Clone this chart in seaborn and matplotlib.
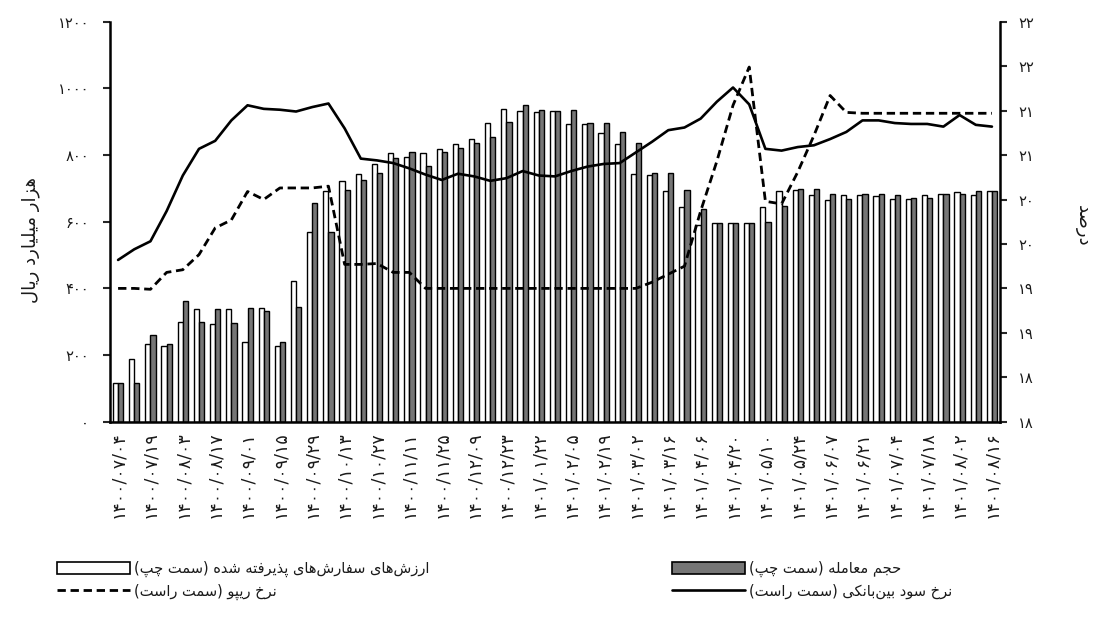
import math
import numpy as np
import pandas as pd
import matplotlib
matplotlib.use("Agg")
import matplotlib.pyplot as plt
from matplotlib.patches import Patch
from matplotlib.lines import Line2D
from matplotlib.ticker import FixedLocator, FuncFormatter
import seaborn as sns

# ---------------------------------------------------------------
# data (weekly)
# ---------------------------------------------------------------
date_labels = [
    "۱۴۰۰/۰۷/۰۴", "۱۴۰۰/۰۷/۱۹", "۱۴۰۰/۰۸/۰۳", "۱۴۰۰/۰۸/۱۷", "۱۴۰۰/۰۹/۰۱",
    "۱۴۰۰/۰۹/۱۵", "۱۴۰۰/۰۹/۲۹", "۱۴۰۰/۱۰/۱۳", "۱۴۰۰/۱۰/۲۷", "۱۴۰۰/۱۱/۱۱",
    "۱۴۰۰/۱۱/۲۵", "۱۴۰۰/۱۲/۰۹", "۱۴۰۰/۱۲/۲۳", "۱۴۰۱/۰۱/۲۲", "۱۴۰۱/۰۲/۰۵",
    "۱۴۰۱/۰۲/۱۹", "۱۴۰۱/۰۳/۰۲", "۱۴۰۱/۰۳/۱۶", "۱۴۰۱/۰۴/۰۶", "۱۴۰۱/۰۴/۲۰",
    "۱۴۰۱/۰۵/۱۰", "۱۴۰۱/۰۵/۲۴", "۱۴۰۱/۰۶/۰۷", "۱۴۰۱/۰۶/۲۱", "۱۴۰۱/۰۷/۰۴",
    "۱۴۰۱/۰۷/۱۸", "۱۴۰۱/۰۸/۰۲", "۱۴۰۱/۰۸/۱۶",
]

# accepted orders value (left axis)
accepted = [117, 187, 232, 227, 299, 337, 294, 339, 239, 342,
            227, 422, 568, 693, 721, 743, 773, 805, 795, 805,
            818, 832, 848, 897, 938, 933, 928, 933, 893, 893,
            865, 833, 743, 741, 693, 645, 589, 595, 595, 595,
            643, 693, 695, 681, 666, 679, 681, 677, 669, 669,
            681, 682, 689, 681, 692]

# trade volume (left axis)
volume = [117, 117, 259, 233, 361, 299, 339, 295, 342, 331,
          239, 344, 655, 568, 695, 725, 746, 792, 808, 767,
          808, 820, 835, 853, 900, 949, 936, 931, 934, 896,
          897, 868, 835, 747, 745, 695, 639, 595, 595, 595,
          598, 648, 697, 697, 682, 669, 683, 683, 681, 670,
          672, 683, 683, 692, 693]

# interbank rate (right axis)
interbank = [19.32, 19.44, 19.53, 19.87, 20.27, 20.57, 20.66, 20.89, 21.06, 21.02,
             21.01, 20.99, 21.04, 21.08, 20.80, 20.46, 20.44, 20.41, 20.35, 20.28,
             20.22, 20.29, 20.26, 20.21, 20.24, 20.32, 20.27, 20.26, 20.32, 20.37,
             20.40, 20.41, 20.53, 20.65, 20.78, 20.81, 20.91, 21.10, 21.26, 21.07,
             20.57, 20.55, 20.59, 20.61, 20.68, 20.76, 20.89, 20.89, 20.86, 20.85,
             20.85, 20.82, 20.95, 20.84, 20.82]

# repo rate (right axis)
repo = [19.00, 19.00, 18.99, 19.18, 19.21, 19.38, 19.68, 19.77, 20.09, 20.00,
        20.13, 20.13, 20.13, 20.15, 19.27, 19.27, 19.28, 19.18, 19.18, 19.00,
        19.00, 19.00, 19.00, 19.00, 19.00, 19.00, 19.00, 19.00, 19.00, 19.00,
        19.00, 19.00, 19.00, 19.07, 19.16, 19.25, 19.87, 20.43, 21.06, 21.49,
        19.98, 19.95, 20.31, 20.72, 21.17, 20.98, 20.97, 20.97, 20.97, 20.97,
        20.97, 20.97, 20.97, 20.97, 20.97]

weeks = list(range(len(accepted)))

LBL_ACC = "ارزش‌های سفارش‌های پذیرفته شده (سمت چپ)"
LBL_VOL = "حجم معامله (سمت چپ)"
LBL_REPO = "نرخ ریپو (سمت راست)"
LBL_IB = "نرخ سود بین‌بانکی (سمت راست)"
YLABEL_L = "هزار میلیارد ریال"
YLABEL_R = "درصد"

# ---------------------------------------------------------------
# small persian shaper (matplotlib has no arabic shaping / bidi)
# isolated, final, initial, medial
# ---------------------------------------------------------------
FORMS = {
    "ا": ("\uFE8D", "\uFE8E", None, None),
    "ب": ("\uFE8F", "\uFE90", "\uFE91", "\uFE92"),
    "پ": ("\uFB56", "\uFB57", "\uFB58", "\uFB59"),
    "ت": ("\uFE95", "\uFE96", "\uFE97", "\uFE98"),
    "ج": ("\uFE9D", "\uFE9E", "\uFE9F", "\uFEA0"),
    "چ": ("\uFB7A", "\uFB7B", "\uFB7C", "\uFB7D"),
    "ح": ("\uFEA1", "\uFEA2", "\uFEA3", "\uFEA4"),
    "خ": ("\uFEA5", "\uFEA6", "\uFEA7", "\uFEA8"),
    "د": ("\uFEA9", "\uFEAA", None, None),
    "ذ": ("\uFEAB", "\uFEAC", None, None),
    "ر": ("\uFEAD", "\uFEAE", None, None),
    "ز": ("\uFEAF", "\uFEB0", None, None),
    "س": ("\uFEB1", "\uFEB2", "\uFEB3", "\uFEB4"),
    "ش": ("\uFEB5", "\uFEB6", "\uFEB7", "\uFEB8"),
    "ص": ("\uFEB9", "\uFEBA", "\uFEBB", "\uFEBC"),
    "ع": ("\uFEC9", "\uFECA", "\uFECB", "\uFECC"),
    "ف": ("\uFED1", "\uFED2", "\uFED3", "\uFED4"),
    "ک": ("\uFB8E", "\uFB8F", "\uFB90", "\uFB91"),
    "ل": ("\uFEDD", "\uFEDE", "\uFEDF", "\uFEE0"),
    "م": ("\uFEE1", "\uFEE2", "\uFEE3", "\uFEE4"),
    "ن": ("\uFEE5", "\uFEE6", "\uFEE7", "\uFEE8"),
    "ه": ("\uFEE9", "\uFEEA", "\uFEEB", "\uFEEC"),
    "و": ("\uFEED", "\uFEEE", None, None),
    "ی": ("\uFBFC", "\uFBFD", "\uFBFE", "\uFBFF"),
}


def fa(text):
    def dual(c):
        return c in FORMS and FORMS[c][2] is not None
    out = []
    for i, c in enumerate(text):
        if c not in FORMS:
            if c != "\u200c":
                out.append(c)
            continue
        prev = text[i - 1] if i > 0 else ""
        nxt = text[i + 1] if i + 1 < len(text) else ""
        jp = dual(prev)
        jn = dual(c) and nxt in FORMS
        iso, fin, ini, med = FORMS[c]
        out.append(med if (jp and jn) else fin if jp else ini if jn else iso)
    mirror = {"(": ")", ")": "("}
    return "".join(mirror.get(c, c) for c in reversed(out))


FA_DIGITS = str.maketrans("0123456789", "۰۱۲۳۴۵۶۷۸۹")

# ---------------------------------------------------------------
# figure
# ---------------------------------------------------------------
sns.set_style("white")
plt.rcParams["font.family"] = ["DejaVu Sans"]
plt.rcParams["axes.unicode_minus"] = False

TXT = "#1a1a1a"
GRAY = "#767676"

fig = plt.figure(figsize=(11.01, 6.39), dpi=100)
ax = fig.add_axes([0.0999, 0.340, 0.8084, 0.626])

df = pd.DataFrame({
    "week": weeks * 2,
    "value": accepted + volume,
    "series": [LBL_ACC] * len(weeks) + [LBL_VOL] * len(weeks),
})
sns.barplot(data=df, x="week", y="value", hue="series",
            hue_order=[LBL_ACC, LBL_VOL], palette=["white", GRAY],
            saturation=1, edgecolor="black", linewidth=1.0, width=0.64,
            errorbar=None, legend=False, ax=ax)

ax2 = ax.twinx()
sns.lineplot(x=weeks, y=interbank, ax=ax2, color="black", linewidth=1.9)
sns.lineplot(x=weeks, y=repo, ax=ax2, color="black", linewidth=2.0,
             linestyle=(0, (3.0, 1.7)))

ax.set_xlim(-0.5, len(weeks) - 0.5)
ax.set_ylim(0, 1200)
ax2.set_ylim(17.5, 22)

# left axis
ax.yaxis.set_major_locator(FixedLocator(np.arange(0, 1201, 200)))
ax.yaxis.set_major_formatter(FuncFormatter(lambda v, p: str(int(v)).translate(FA_DIGITS)))
ax.tick_params(axis="y", length=5, width=1.5, direction="out", labelsize=10.5,
               labelcolor=TXT, pad=10)

# right axis (labels rounded like the original)
ax2.yaxis.set_major_locator(FixedLocator(np.arange(17.5, 22.01, 0.5)))
ax2.yaxis.set_major_formatter(
    FuncFormatter(lambda v, p: str(int(math.floor(v + 0.5))).translate(FA_DIGITS)))
ax2.tick_params(axis="y", length=5, width=1.5, direction="out", labelsize=10.5,
                labelcolor=TXT, pad=8)

# x axis
ax.set_xticks(weeks[::2])
ax.set_xticklabels(date_labels, rotation=90, fontsize=12.5, color=TXT)
ax.tick_params(axis="x", length=0, pad=7)
ax.set_xlabel("")

for a in (ax, ax2):
    a.spines["top"].set_visible(False)
    for s in a.spines.values():
        s.set_color("black")
        s.set_linewidth(1.8)
ax.spines["right"].set_visible(False)
ax2.spines["left"].set_visible(False)
ax2.spines["bottom"].set_visible(False)

ax.set_ylabel(fa(YLABEL_L), fontsize=13, color=TXT)
ax.yaxis.set_label_coords(-0.079, 0.454)
ax2.set_ylabel(fa(YLABEL_R), fontsize=13, color=TXT, rotation=270, va="center")
ax2.yaxis.set_label_coords(1.093, 0.49)

# legend, two columns placed like the original
h_acc = Patch(facecolor="white", edgecolor="black", linewidth=1.2)
h_vol = Patch(facecolor=GRAY, edgecolor="black", linewidth=1.2)
h_repo = Line2D([], [], color="black", linewidth=2.0, linestyle=(0, (3.0, 1.7)))
h_ib = Line2D([], [], color="black", linewidth=1.9)

leg_kw = dict(loc="upper left", frameon=False, fontsize=10.5, handlelength=5.0,
              handleheight=0.9, handletextpad=0.3, labelspacing=0.45,
              borderpad=0, borderaxespad=0, labelcolor=TXT)
leg1 = fig.legend([h_acc, h_repo], [fa(LBL_ACC), fa(LBL_REPO)],
                  bbox_to_anchor=(57 / 1101, 1 - 561 / 639), **leg_kw)
leg2 = fig.legend([h_vol, h_ib], [fa(LBL_VOL), fa(LBL_IB)],
                  bbox_to_anchor=(672 / 1101, 1 - 561 / 639), **leg_kw)

fig.savefig("out.png", dpi=100, facecolor="white")
